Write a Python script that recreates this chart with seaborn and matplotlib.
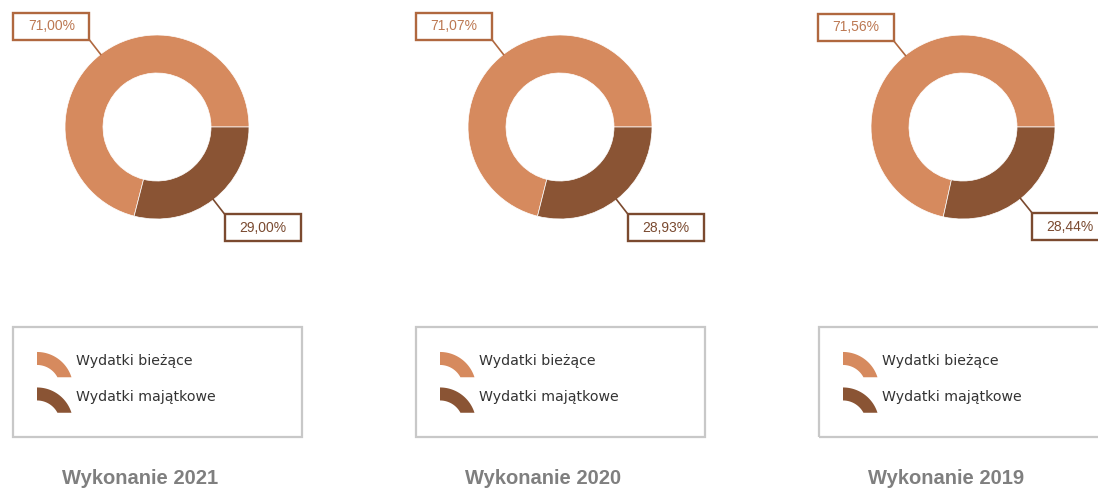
import numpy as np
import matplotlib
matplotlib.use("Agg")
import matplotlib.pyplot as plt
import seaborn as sns
from matplotlib.legend_handler import HandlerPatch
from matplotlib.patches import Polygon, Rectangle, Wedge

years = ["Wykonanie 2021", "Wykonanie 2020", "Wykonanie 2019"]
categories = ["Wydatki bieżące", "Wydatki majątkowe"]
current = [71.00, 71.07, 71.56]
capital = [29.00, 28.93, 28.44]

colors = ["#D68A5E", "#8A5434"]
label_text = ["#BC7852", "#7A4A30"]
label_edge = ["#B0683F", "#7B4A2F"]

W, H = 1098, 491


def fx(px):
    return px / W


def fy(py):
    return 1 - py / H


class HandlerArc(HandlerPatch):
    """Legend key drawn as a piece of ring, cut flat at the bottom."""

    def create_artists(self, legend, orig_handle, xdescent, ydescent,
                       width, height, fontsize, trans):
        ro = width
        ri = 0.64 * ro
        shift = 0.28 * fontsize  # key sits a little lower than the label
        cx, cy = -xdescent, -ydescent + height - ro - shift
        drop = ro - height
        a_o = np.arcsin(drop / ro)
        a_i = np.arcsin(min(drop / ri, 1.0))
        t_out = np.linspace(np.pi / 2, a_o, 40)
        t_in = np.linspace(a_i, np.pi / 2, 40)
        pts = np.vstack([
            np.column_stack([cx + ro * np.cos(t_out), cy + ro * np.sin(t_out)]),
            np.column_stack([cx + ri * np.cos(t_in), cy + ri * np.sin(t_in)]),
        ])
        arc = Polygon(pts, closed=True, facecolor=orig_handle.get_facecolor(),
                      edgecolor="none", transform=trans)
        return [arc]


sns.set_theme(style="white")
plt.rcParams["font.family"] = ["DejaVu Sans"]

fig = plt.figure(figsize=(W / 100, H / 100), dpi=100, facecolor="white")

R = 92
for i, year in enumerate(years):
    cx, cy = 157 + 403 * i, 127
    ax = fig.add_axes([fx(cx - R), fy(cy + R), 2 * R / W, 2 * R / H])
    wedges, _ = ax.pie([current[i], capital[i]], colors=colors, startangle=0,
                       counterclock=True, radius=1,
                       wedgeprops=dict(width=0.413, edgecolor="white", linewidth=0.5))
    ax.set_xlim(-1, 1)
    ax.set_ylim(-1, 1)
    ax.set_aspect("equal")
    ax.axis("off")

    # callout boxes
    bw, bh = 76 / R, 27 / R
    for j, (w, v) in enumerate(zip(wedges, [current[i], capital[i]])):
        mid = np.radians((w.theta1 + w.theta2) / 2)
        x0, y0 = np.cos(mid), np.sin(mid)
        x1, y1 = 1.2 * x0, 1.2 * y0
        ax.plot([0.99 * x0, x1], [0.99 * y0, y1], color=label_edge[j],
                lw=1.2, clip_on=False, solid_capstyle="butt")
        left = x1 - bw if x0 < 0 else x1
        bottom = y1 if y0 > 0 else y1 - bh
        ax.add_patch(Rectangle((left, bottom), bw, bh, facecolor="white",
                               edgecolor=label_edge[j], lw=1.7, clip_on=False))
        ax.text(left + bw / 2, bottom + bh / 2,
                f"{v:.2f}".replace(".", ",") + "%",
                ha="center", va="center", fontsize=10,
                family="Liberation Sans", color=label_text[j], clip_on=False)

    # legend frame + legend
    fig.patches.append(Rectangle((fx(13 + 403 * i), fy(437)), 289 / W, 110 / H,
                                 transform=fig.transFigure, facecolor="none",
                                 edgecolor="#C8C8C8", lw=1.6))
    fig.legend(wedges, categories, handler_map={Wedge: HandlerArc()},
               loc="upper left", bbox_to_anchor=(fx(37 + 403 * i), fy(348)),
               bbox_transform=fig.transFigure, frameon=False, fontsize=10.2,
               borderpad=0, borderaxespad=0, handlelength=2.55,
               handleheight=2.37, handletextpad=0.2, labelspacing=0.72,
               labelcolor="#333333")

    fig.text(fx(140 + 403 * i), fy(479), year, ha="center", va="center",
             fontsize=14.5, fontweight="bold", family="Liberation Sans",
             color="#7F7F7F")

fig.savefig("out.png", dpi=100)
